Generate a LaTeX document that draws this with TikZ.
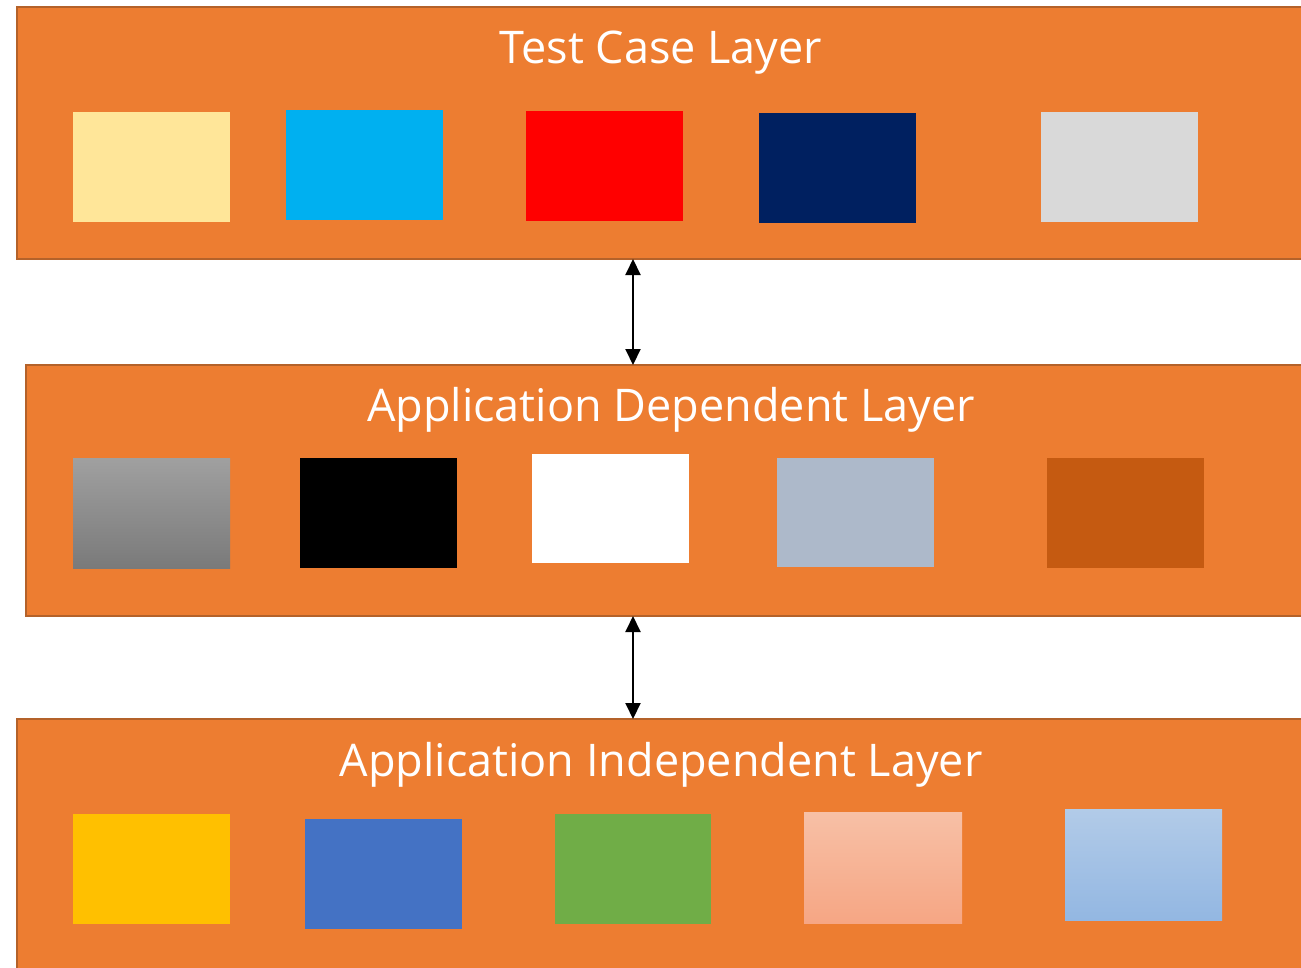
\documentclass[tikz,border=0pt]{standalone}
\usepackage{fontspec}
\setmainfont{Open Sans}
\usetikzlibrary{arrows.meta}
\definecolor{lay}{HTML}{ED7D31}
\definecolor{layb}{HTML}{B4622A}
\definecolor{c1}{HTML}{FFE699}
\definecolor{c2}{HTML}{00B0F0}
\definecolor{c3}{HTML}{FF0000}
\definecolor{c4}{HTML}{002060}
\definecolor{c5}{HTML}{D9D9D9}
\definecolor{c7}{HTML}{000000}
\definecolor{c9}{HTML}{ADB9CA}
\definecolor{c10}{HTML}{C55A11}
\definecolor{c11}{HTML}{FFC000}
\definecolor{c12}{HTML}{4472C4}
\definecolor{c13}{HTML}{70AD47}
\tikzset{
  layer/.style={draw=layb, line width=2.2pt, fill=lay, anchor=north west, inner sep=0pt, outer sep=0pt},
  sq/.style={anchor=north west, minimum width=157pt, minimum height=110pt, inner sep=0pt, outer sep=0pt, draw=none},
  title/.style={text=white, font=\fontsize{45}{50}\selectfont, anchor=base, inner sep=0pt},
  arr/.style={{Triangle[length=16pt,width=15pt]}-{Triangle[length=16pt,width=15pt]}, line width=2pt, black}
}
\begin{document}
\begin{tikzpicture}[x=1pt,y=-1pt]
\useasboundingbox (0,0) rectangle (1301,967);
\clip (0,0) rectangle (1301,967);
\fill[white] (0,0) rectangle (1301,967);
% layers
\node[layer, minimum width=1293pt, minimum height=252pt] (top) at (17,7) {};
\node[layer, minimum width=1284pt, minimum height=251pt] (mid) at (26,365) {};
\node[layer, minimum width=1293pt, minimum height=260pt] (bot) at (17,719) {};
% titles
\node[title] (t1) at (661,63) {Test Case Layer};
\node[title] (t2) at (671,421) {Application Dependent Layer};
\node[title] (t3) at (661,776) {Application Independent Layer};
% top row
\node[sq, fill=c1] (a1) at (73,112) {};
\node[sq, fill=c2] (a2) at (286,110) {};
\node[sq, fill=c3] (a3) at (526,111) {};
\node[sq, fill=c4] (a4) at (759,113) {};
\node[sq, fill=c5] (a5) at (1041,112) {};
% middle row
\node[sq, top color={rgb,255:red,160;green,160;blue,160}, bottom color={rgb,255:red,122;green,122;blue,122}] (b1) at (73,458) {};
\node[sq, fill=c7] (b2) at (300,458) {};
\node[sq, fill=white, minimum height=109pt] (b3) at (532,454) {};
\node[sq, fill=c9, minimum height=109pt] (b4) at (777,458) {};
\node[sq, fill=c10] (b5) at (1047,458) {};
% bottom row
\node[sq, fill=c11] (d1) at (73,814) {};
\node[sq, fill=c12] (d2) at (305,819) {};
\node[sq, fill=c13, minimum width=156pt] (d3) at (555,814) {};
\node[sq, minimum width=158pt, minimum height=111pt, top color={rgb,255:red,247;green,192;blue,166}, bottom color={rgb,255:red,246;green,166;blue,132}] (d4) at (804,812) {};
\node[sq, minimum height=111pt, top color={rgb,255:red,178;green,203;blue,232}, bottom color={rgb,255:red,147;green,183;blue,226}] (d5) at (1065,809) {};
% connectors
\coordinate (ax) at (633,0);
\draw[arr] (top.south -| ax) -- (mid.north -| ax);
\draw[arr] (mid.south -| ax) -- (bot.north -| ax);
\end{tikzpicture}
\end{document}
